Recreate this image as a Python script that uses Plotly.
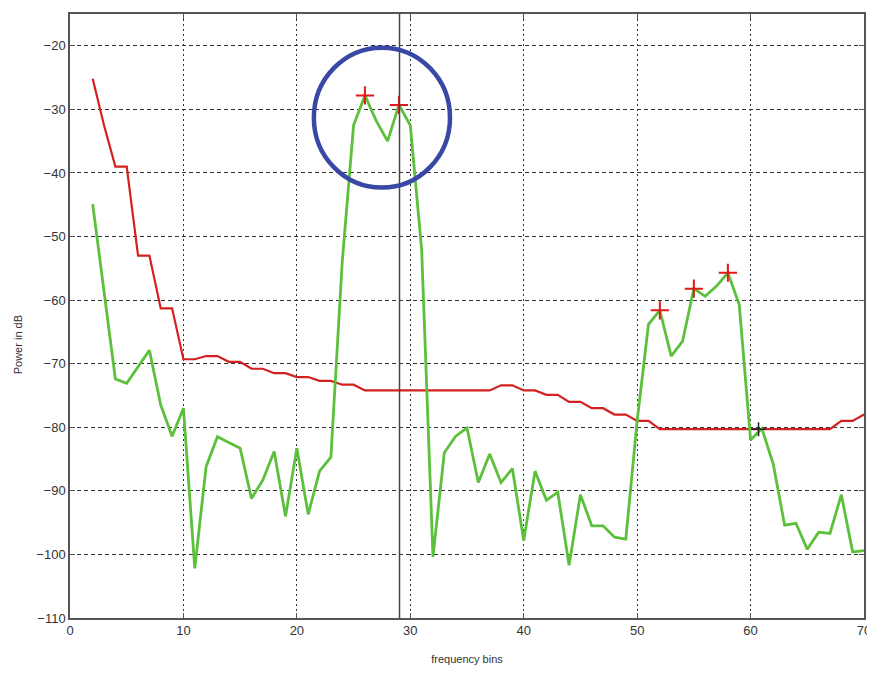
import plotly.graph_objects as go

# ---- data ----
bins = list(range(2, 71))

green_power = [
    -44.9, -58.6, -72.4, -73.1, -70.5, -67.9, -76.5, -81.4, -77.0, -102.2,   # 2-11
    -86.2, -81.5, -82.4, -83.3, -91.2, -88.3, -83.8, -94.0, -83.3, -93.7,    # 12-21
    -86.9, -84.7, -54.0, -32.5, -27.8, -31.8, -35.0, -29.3, -32.5, -52.0,    # 22-31
    -100.4, -84.0, -81.4, -80.1, -88.7, -84.2, -88.7, -86.5, -97.8, -86.9,   # 32-41
    -91.5, -90.2, -101.7, -90.6, -95.5, -95.5, -97.3, -97.6, -79.0, -63.8,   # 42-51
    -61.6, -68.8, -66.5, -58.2, -59.4, -57.8, -55.7, -60.7, -82.0, -80.2,    # 52-61
    -85.8, -95.4, -95.1, -99.2, -96.5, -96.7, -90.6, -99.6, -99.4,           # 62-70
]

red_threshold = (
    [-25.2, -32.5, -39.0, -39.0, -53.0, -53.0, -61.3, -61.3, -69.3, -69.3,   # 2-11
     -68.8, -68.8, -69.7, -69.7, -70.8, -70.8, -71.5, -71.5, -72.1, -72.1,   # 12-21
     -72.7, -72.7, -73.3, -73.3]                                             # 22-25
    + [-74.2] * 12                                                          # 26-37
    + [-73.4, -73.4, -74.2, -74.2, -74.9, -74.9, -76.0, -76.0, -77.0, -77.0,  # 38-47
       -78.0, -78.0, -79.0, -79.0]                                           # 48-51
    + [-80.3] * 16                                                          # 52-67
    + [-79.0, -79.0, -78.0]                                                 # 68-70
)

peak_x = [26, 29, 52, 55, 58]
peak_y = [-27.8, -29.3, -61.6, -58.2, -55.7]

cross_x = [60.7]
cross_y = [-80.3]

cursor_x = 29.05
circle_x = [21.5, 33.5]
circle_y = [-42.3, -20.3]

x_ticks = [0, 10, 20, 30, 40, 50, 60, 70]
y_ticks = [-110, -100, -90, -80, -70, -60, -50, -40, -30, -20]

FONT = "Liberation Sans, Arial, sans-serif"

# ---- figure ----
fig = go.Figure()

fig.add_trace(go.Scatter(x=bins, y=red_threshold, mode="lines",
                         line=dict(color="#d42020", width=2.2), showlegend=False))
fig.add_trace(go.Scatter(x=bins, y=green_power, mode="lines",
                         line=dict(color="#5cc03c", width=2.8), showlegend=False))
fig.add_trace(go.Scatter(x=peak_x, y=peak_y, mode="markers",
                         marker=dict(symbol="cross-thin", size=13,
                                     line=dict(color="#e01818", width=2)),
                         showlegend=False))
fig.add_trace(go.Scatter(x=cross_x, y=cross_y, mode="markers",
                         marker=dict(symbol="cross-thin", size=10,
                                     line=dict(color="#222222", width=1.5)),
                         showlegend=False))

fig.add_shape(type="line", xref="x", yref="paper", x0=cursor_x, x1=cursor_x,
              y0=0, y1=1, line=dict(color="#444444", width=1.5))
fig.add_shape(type="circle", xref="x", yref="y",
              x0=circle_x[0], x1=circle_x[1], y0=circle_y[0], y1=circle_y[1],
              line=dict(color="#3a48a5", width=4.5))

axis_common = dict(
    showline=True, mirror="ticks", linecolor="#555555", linewidth=1.5,
    showgrid=True, gridcolor="#333333", gridwidth=1,
    ticks="inside", ticklen=5, tickcolor="#555555",
    zeroline=False, ticklabeloverflow="allow",
    tickfont=dict(family=FONT, size=13, color="#333333"),
)

fig.update_xaxes(range=[0, 70], tickvals=x_ticks, griddash="2px,3px",
                 title=dict(text="frequency bins",
                            font=dict(family=FONT, size=11, color="#333333"),
                            standoff=18),
                 **axis_common)
fig.update_yaxes(range=[-110, -15], tickvals=y_ticks, griddash="4px,3px",
                 **axis_common)

fig.add_annotation(text="Power in dB", xref="paper", yref="paper",
                   x=-0.066, y=0.4525, textangle=-90, showarrow=False,
                   xanchor="center", yanchor="middle",
                   font=dict(family=FONT, size=11, color="#333333"))

# the page body adds an 8px margin, so the figure is sized to fit the window
fig.update_layout(
    width=867, height=660,
    margin=dict(l=62, r=5, t=4, b=46),
    plot_bgcolor="white", paper_bgcolor="white",
    showlegend=False,
)

fig.write_html("out.html")
